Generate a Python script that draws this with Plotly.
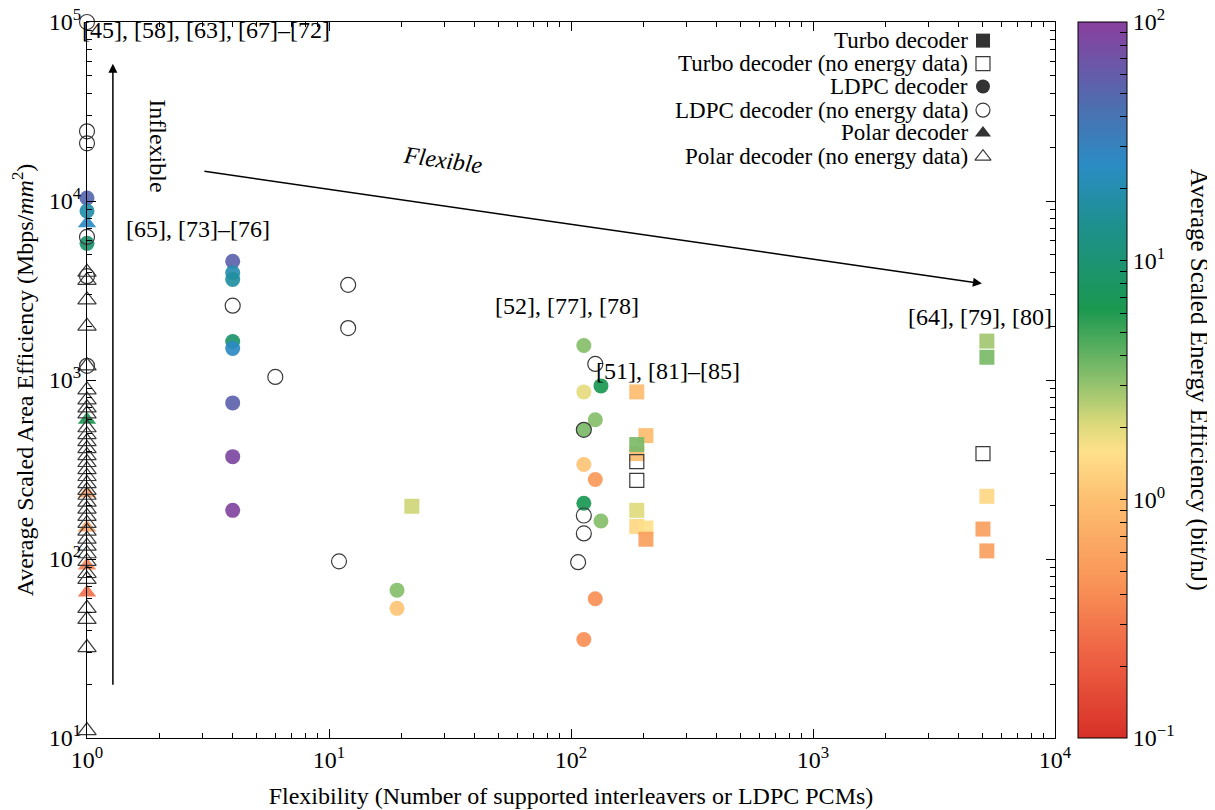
import numpy as np
import plotly.graph_objects as go

# ---------------- data ----------------
# Turbo decoders with energy data: flexibility, area efficiency (Mbps/mm^2), energy efficiency (bit/nJ)
turbo_x = [22, 187, 204, 187, 187, 187, 187, 204, 204, 5230, 5230, 5230, 5040, 5230]
turbo_y = [197, 858, 489, 388, 436, 187, 152, 149, 129, 1650, 1340, 224, 147, 111]
turbo_e = [2.2, 0.95, 0.95, 0.95, 3.5, 2.0, 1.4, 1.6, 0.55, 2.8, 3.5, 1.4, 0.55, 0.55]

# Turbo decoders without energy data
turbo_ne_x = [187, 187, 5040]
turbo_ne_y = [350, 275, 388]

# LDPC decoders with energy data
ldpc_x = [1, 1, 1, 4, 4, 4, 4, 4, 4, 4, 4, 19.1, 19.1,
          113, 133, 113, 126, 113, 113, 126, 113, 133, 126, 113]
ldpc_y = [10400, 8800, 5800, 4600, 3970, 3640, 1640, 1500, 745, 373, 187, 67, 53,
          1560, 927, 858, 600, 527, 337, 278, 205, 163, 60, 35.5]
ldpc_e = [50, 19, 9.5, 55, 20, 17, 9, 26, 55, 85, 90, 3.3, 1.05,
          3.3, 6.3, 1.9, 3.3, 3.5, 1.05, 0.5, 6.5, 3.3, 0.42, 0.42]

# LDPC decoders without energy data
ldpc_ne_x = [1, 1, 1, 1, 1, 1, 4, 6.0, 12, 12, 11, 126, 113, 113, 113, 107]
ldpc_ne_y = [100000, 24500, 21000, 6300, 3800, 1200, 2600, 1040, 3400, 1950, 97, 1230, 527, 175, 139, 96]

# Polar decoders with energy data
polar_x = [1, 1, 1, 1, 1, 1]
polar_y = [7500, 600, 233, 150, 92, 65]
polar_e = [25, 6.3, 0.55, 0.6, 0.35, 0.28]

# Polar decoders without energy data
polar_ne_y = [4000, 3600, 2800, 2000, 1200, 880, 774, 699, 647, 541, 495, 453, 414, 378,
              346, 316, 289, 264, 242, 227, 208, 190, 173, 158, 143, 129, 118, 107, 97,
              83, 77, 53, 46, 32, 11]
polar_ne_x = [1] * len(polar_ne_y)

# tick labels
x_tickvals = [1, 10, 100, 1000, 10000]
x_ticktext = ["10<sup>0</sup>", "10<sup>1</sup>", "10<sup>2</sup>", "10<sup>3</sup>", "10<sup>4</sup>"]
y_tickvals = [10, 100, 1000, 10000, 100000]
y_ticktext = ["10<sup>1</sup>", "10<sup>2</sup>", "10<sup>3</sup>", "10<sup>4</sup>", "10<sup>5</sup>"]
cb_tickvals = [-1, 0, 1, 2]
cb_ticktext = ["10<sup>\u22121</sup>", "10<sup>0</sup>", "10<sup>1</sup>", "10<sup>2</sup>"]

legend_labels = ["Turbo decoder", "Turbo decoder (no energy data)", "LDPC decoder",
                 "LDPC decoder (no energy data)", "Polar decoder", "Polar decoder (no energy data)"]

# ---------------- styling ----------------
FONT = "Liberation Serif, Times New Roman, serif"
FS = 24
OPEN_COL = "#3a3a3a"
colorscale = [
    [0.00, "#d73027"], [0.12, "#ef6445"], [0.22, "#f99558"], [0.33, "#fdbe70"],
    [0.40, "#fee08b"], [0.44, "#d9d97a"], [0.50, "#8cc06c"], [0.60, "#1a9850"],
    [0.72, "#1e9090"], [0.80, "#2b8cc4"], [0.88, "#4c6fb0"], [1.00, "#8a3f9e"],
]

fig = go.Figure()


def filled(x, y, e, symbol, size):
    fig.add_trace(go.Scatter(
        x=x, y=y, mode="markers", showlegend=False, cliponaxis=False,
        marker=dict(symbol=symbol, size=size, color=np.log10(e), coloraxis="coloraxis",
                    line=dict(width=0), opacity=0.92),
        hoverinfo="x+y"))


def hollow(x, y, symbol, size):
    fig.add_trace(go.Scatter(
        x=x, y=y, mode="markers", showlegend=False, cliponaxis=False,
        marker=dict(symbol=symbol, size=size, color=OPEN_COL,
                    line=dict(width=1.2, color=OPEN_COL)),
        hoverinfo="x+y"))


filled(polar_x, polar_y, polar_e, "triangle-up", 16)
filled(ldpc_x, ldpc_y, ldpc_e, "circle", 15)
filled(turbo_x, turbo_y, turbo_e, "square", 15)
hollow(polar_ne_x, polar_ne_y, "triangle-up-open", 16)
hollow(ldpc_ne_x, ldpc_ne_y, "circle-open", 15)
hollow(turbo_ne_x, turbo_ne_y, "square-open", 14)

# ---------------- legend (manual, symbol on the right) ----------------
leg_rows = [0.974, 0.942, 0.910, 0.877, 0.845, 0.812]
leg_symbols = ["square", "square-open", "circle", "circle-open", "triangle-up", "triangle-up-open"]
leg_x = 0.9256
for lab, sym, yy in zip(legend_labels, leg_symbols, leg_rows):
    is_open = sym.endswith("open")
    fig.add_trace(go.Scatter(
        x=[leg_x], y=[yy], xaxis="x2", yaxis="y2", mode="markers", showlegend=False,
        hoverinfo="skip", cliponaxis=False,
        marker=dict(symbol=sym, size=14,
                    color=OPEN_COL if is_open else "#333333",
                    line=dict(width=1.2 if is_open else 0, color=OPEN_COL))))
    fig.add_annotation(xref="paper", yref="paper", x=0.912, y=yy, text=lab,
                       showarrow=False, xanchor="right", yanchor="middle",
                       font=dict(family=FONT, size=23, color="black"))

# ---------------- text annotations ----------------
ann_font = dict(family=FONT, size=FS, color="black")
for txt, ax_, ay_ in [("[45], [58], [63], [67]\u2013[72]", 0.492, 4.955),
                      ("[65], [73]\u2013[76]", 0.459, 3.844),
                      ("[52], [77], [78]", 1.983, 3.411),
                      ("[51], [81]\u2013[85]", 2.401, 3.05),
                      ("[64], [79], [80]", 3.69, 3.35)]:
    fig.add_annotation(x=ax_, y=ay_, xref="x", yref="y", text=txt, showarrow=False,
                       xanchor="center", yanchor="middle", font=ann_font)

fig.add_annotation(x=0.293, y=4.306, xref="x", yref="y", text="Inflexible", showarrow=False,
                   textangle=90, font=ann_font)
fig.add_annotation(x=1.471, y=4.228, xref="x", yref="y", text="<i>Flexible</i>", showarrow=False,
                   textangle=8, font=ann_font)

# arrows
fig.add_annotation(x=0.107, y=4.767, ax=0.107, ay=1.289, xref="x", yref="y", axref="x", ayref="y",
                   text="", showarrow=True, arrowhead=2, arrowsize=1.2, arrowwidth=1.5,
                   arrowcolor="black")
fig.add_annotation(x=3.698, y=3.539, ax=0.479, ay=4.167, xref="x", yref="y", axref="x", ayref="y",
                   text="", showarrow=True, arrowhead=2, arrowsize=1.2, arrowwidth=1.5,
                   arrowcolor="black")

# colorbar title
fig.add_annotation(xref="paper", yref="paper", x=1.149, y=0.5, xanchor="center", yanchor="middle",
                   text="Average Scaled Energy Efficiency (bit/nJ)", showarrow=False,
                   textangle=90, font=dict(family=FONT, size=25, color="black"))

# ---------------- axes ----------------
x_minor = [k * 10 ** n for n in range(0, 4) for k in range(2, 10)]
y_minor = [k * 10 ** n for n in range(1, 5) for k in range(2, 10)]
cb_minor = [np.log10(k * 10.0 ** n) for n in range(-1, 2) for k in range(2, 10)]

fig.update_layout(
    width=1207, height=802,
    margin=dict(l=79, r=160, t=14, b=72, autoexpand=False),
    paper_bgcolor="white", plot_bgcolor="white",
    font=dict(family=FONT, size=FS, color="black"),
    xaxis=dict(type="log", range=[0, 4], tickvals=x_tickvals, ticktext=x_ticktext,
               ticks="inside", ticklen=9, tickwidth=1, tickcolor="black",
               showline=True, linecolor="black", linewidth=1, mirror="ticks",
               showgrid=False, zeroline=False, automargin=False, ticklabeloverflow="allow",
               minor=dict(tickvals=x_minor, ticks="inside", ticklen=5, tickcolor="black", showgrid=False),
               title=dict(text="Flexibility (Number of supported interleavers or LDPC PCMs)",
                          font=dict(family=FONT, size=FS)),
               tickfont=dict(family=FONT, size=FS)),
    yaxis=dict(type="log", range=[1, 5], tickvals=y_tickvals, ticktext=y_ticktext,
               ticks="inside", ticklen=9, tickwidth=1, tickcolor="black",
               showline=True, linecolor="black", linewidth=1, mirror="ticks",
               showgrid=False, zeroline=False, automargin=False, ticklabeloverflow="allow",
               minor=dict(tickvals=y_minor, ticks="inside", ticklen=5, tickcolor="black", showgrid=False),
               title=dict(text="Average Scaled Area Efficiency (Mbps/<i>mm</i><sup>2</sup>)",
                          font=dict(family=FONT, size=FS)),
               tickfont=dict(family=FONT, size=FS)),
    xaxis2=dict(overlaying="x", range=[0, 1], visible=False, fixedrange=True),
    yaxis2=dict(overlaying="y", range=[0, 1], visible=False, fixedrange=True),
    coloraxis=dict(
        colorscale=colorscale, cmin=-1, cmax=2,
        colorbar=dict(
            x=1.0238, xanchor="left", xpad=0, y=0.5, yanchor="middle", len=1, lenmode="fraction",
            ypad=0, thickness=49, outlinewidth=1, outlinecolor="black",
            tickvals=cb_tickvals + cb_minor,
            ticktext=cb_ticktext + [""] * len(cb_minor),
            ticks="inside", ticklen=7, tickcolor="black", ticklabeloverflow="allow",
            tickfont=dict(family=FONT, size=FS)),
    ),
    showlegend=False,
)

fig.write_html("out.html")
